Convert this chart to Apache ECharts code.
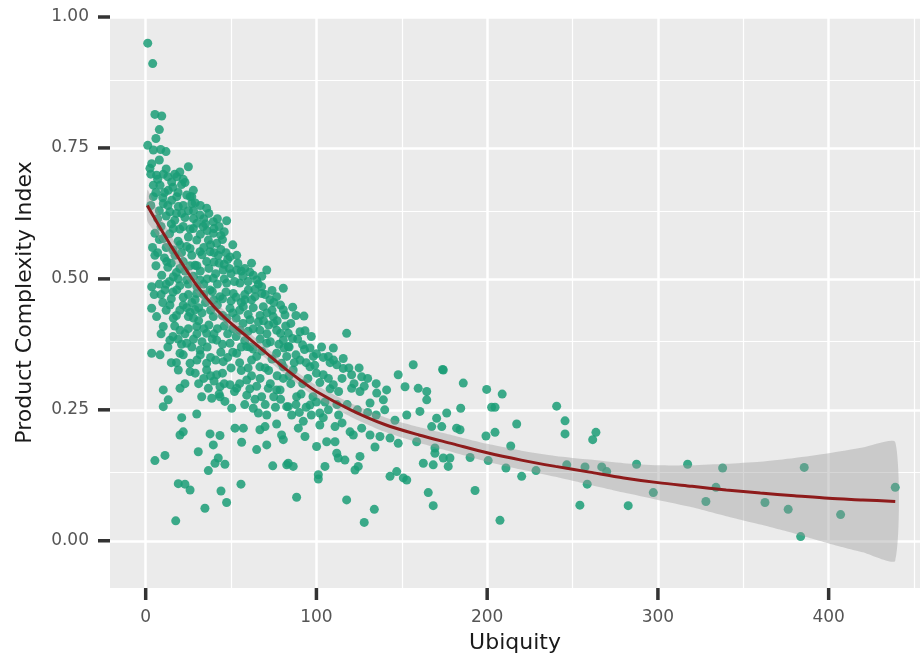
<!DOCTYPE html>
<html>
<head>
<meta charset="utf-8">
<style>html,body{margin:0;padding:0;background:#fff;}#chart{width:920px;height:663px;}</style>
<script src="https://cdn.jsdelivr.net/npm/echarts@6/dist/echarts.min.js"></script>
</head>
<body>
<div id="chart"></div>
<script>
// ---- data ----
const xTicks = [0, 100, 200, 300, 400];
const xMinor = [50, 150, 250, 350, 450];
const yTicks = [0, 0.25, 0.5, 0.75, 1.0];
const yMinor = [0.125, 0.375, 0.625, 0.875];

const points = [
[1.2,0.950],[4.1,0.911],[5.4,0.814],[9.4,0.811],[8,0.785],[6,0.768],[1.2,0.755],[4.5,0.746],[8.8,0.747],[11.9,0.743],
[8,0.727],[3.5,0.720],[2.5,0.711],[25,0.714],[20,0.704],[6.4,0.698],[10.3,0.700],[18.2,0.695],[15.2,0.685],[23,0.684],
[4.5,0.679],[8.4,0.679],[13.2,0.669],[27.9,0.669],[4.5,0.657],[18.2,0.657],[27,0.657],[47.4,0.611],[35.7,0.635],
[10.3,0.644],[15.2,0.650],[19.1,0.638],[27,0.644],[14.2,0.628],[21.1,0.625],[26,0.657],[31.8,0.622],[39.6,0.609],
[5.4,0.587],[10.3,0.577],[16.2,0.596],[22,0.600],[27.9,0.596],[33.7,0.600],[39.6,0.587],[25,0.580],[29.9,0.574],[36.7,0.574],
[41.6,0.568],[20.1,0.565],[26,0.558],[31.8,0.552],[37.7,0.552],[42.5,0.545],[5.4,0.545],[17.2,0.545],[49.4,0.542],[53.3,0.545],
[12.3,0.533],[22,0.533],[28.9,0.526],[35.7,0.533],[45.4,0.517],[53.3,0.517],[70.9,0.517],[63,0.507],[9.4,0.507],[16.2,0.504],
[24,0.498],[31.8,0.498],[39.6,0.501],[47.4,0.492],[55.2,0.492],[3.5,0.485],[80.6,0.482],[60.1,0.479],[67.9,0.485],[11.3,0.479],
[18.2,0.479],[29.9,0.472],[37.7,0.479],[43.5,0.466],[51.3,0.472],[64,0.466],[72.8,0.460],[76.7,0.466],[3.5,0.444],[14.2,0.450],
[22,0.450],[28.9,0.441],[49.4,0.444],[57.2,0.447],[68.9,0.447],[6.4,0.428],[16.2,0.425],[25,0.428],[39.6,0.428],[47.4,0.425],
[61.1,0.422],[74.7,0.428],[80.6,0.441],[10.3,0.409],[20.1,0.402],[29.9,0.409],[35.7,0.396],[55.2,0.402],[66.9,0.402],[76.7,0.402],
[14.2,0.383],[24,0.377],[41.6,0.383],[49.4,0.377],[59.2,0.371],[70.9,0.377],[80.6,0.383],[3.5,0.358],[8.4,0.355],[20.1,0.358],
[31.8,0.364],[53.3,0.358],[65,0.352],[76.7,0.358],[26,0.339],[35.7,0.339],[45.4,0.342],[66.9,0.332],[79.6,0.339],
[19.1,0.326],[26,0.323],[35.7,0.326],[41.6,0.317],[36.7,0.291],[43.5,0.294],[49.4,0.298],[53.3,0.291],[59.2,0.307],[59.2,0.278],
[67.9,0.275],[71.8,0.291],[76.7,0.288],[80.6,0.310],[10.3,0.288],[20.1,0.291],[32.8,0.275],[38.7,0.272],[43.5,0.275],[46.4,0.266],
[13.2,0.269],[10.3,0.256],[50.4,0.253],[63,0.253],[66,0.244],[70.9,0.240],[82.6,0.256],[21.1,0.235],[29.9,0.242],[76.7,0.223],
[52.3,0.215],[57.2,0.215],[66.9,0.212],[69.9,0.218],[20.1,0.202],[22,0.208],[37.7,0.204],[43.5,0.201],[79.6,0.202],[80.6,0.193],
[39.6,0.183],[56.2,0.188],[65,0.174],[70.9,0.183],[30.8,0.170],[5.4,0.153],[11.3,0.163],[42.5,0.158],[40.6,0.148],[46.4,0.146],
[36.7,0.134],[74.4,0.143],[82.6,0.145],[19.1,0.109],[23,0.108],[26,0.097],[44.1,0.095],[55.8,0.108],[34.7,0.062],[47.4,0.073],
[17.6,0.038],
[86.1,0.446],[81.6,0.431],[92.7,0.429],[117.7,0.396],[83.5,0.396],[90.4,0.399],[93.3,0.401],[83.5,0.371],[91.9,0.374],[96.2,0.368],
[109.9,0.368],[107,0.352],[115.7,0.348],[98.2,0.352],[90.4,0.345],[156.7,0.336],[82.6,0.352],
[80.6,0.332],[86.4,0.326],[96.2,0.332],[104,0.317],[111.9,0.336],[115.7,0.329],[120.6,0.317],[126.5,0.313],[109.9,0.298],[120.6,0.291],
[125.5,0.285],[135.3,0.282],[141.1,0.288],[147.9,0.317],[151.9,0.294],[159.6,0.291],[164.6,0.285],[164.6,0.269],[174.3,0.326],[139.2,0.269],
[131.4,0.263],[78.7,0.288],[83.5,0.256],[88.4,0.275],[96.2,0.259],[102,0.244],[85.5,0.240],[92.3,0.228],[89.4,0.215],[102,0.221],
[110.9,0.218],[119.7,0.208],[121.6,0.202],[126.5,0.215],[131.4,0.202],[137.2,0.199],[143.1,0.196],[147.9,0.186],[152.9,0.240],[160.6,0.247],
[167.5,0.218],[170.4,0.234],[176.3,0.244],[173.4,0.218],[158.7,0.189],[169.4,0.177],[169.4,0.167],[93.3,0.199],[100.1,0.180],[106,0.189],
[110.9,0.189],[111.9,0.167],[112.8,0.158],[116.7,0.154],[125.5,0.161],[134.3,0.179],[83.5,0.148],[86.4,0.142],[105,0.142],[122.6,0.135],
[124.5,0.142],[101.1,0.126],[101.1,0.118],[143.1,0.123],[147,0.132],[150.9,0.120],[152.9,0.116],[162.6,0.148],[168.4,0.145],[174.3,0.158],
[177.2,0.142],[165.5,0.092],[168.4,0.067],[88.4,0.083],[117.7,0.078],[133.9,0.060],[128,0.035],
[173.9,0.327],[186,0.301],[199.7,0.289],[208.8,0.280],[184.5,0.253],[202.6,0.255],[204.6,0.255],[240.7,0.257],[217.3,0.223],[245.6,0.229],
[245.6,0.204],[263.7,0.207],[261.8,0.193],[199.3,0.200],[204.6,0.207],[213.8,0.181],[184.1,0.212],[182.1,0.215],[190,0.159],[211,0.139],
[200.6,0.153],[220.2,0.123],[228.6,0.134],[246.6,0.145],[257.3,0.141],[267.1,0.141],[258.6,0.108],[192.9,0.096],[178.2,0.158],
[207.5,0.039],[254.3,0.068],
[270,0.132],[287.5,0.146],[282.6,0.067],[297.3,0.092],[317.4,0.146],[337.9,0.139],[334,0.102],[328.1,0.075],[362.7,0.073],[376.3,0.060],
[385.7,0.140],[383.6,0.008],[407,0.050],[439,0.102],
[12,0.62],[17,0.612],[23,0.617],[30,0.606],[36,0.592],[44,0.583],[9,0.60],[14,0.586],[19,0.572],[24,0.562],
[33,0.546],[40,0.532],[46,0.528],[50,0.51],[57,0.505],[60,0.495],[65,0.498],[68,0.472],[74,0.478],[7,0.55],
[13,0.522],[18,0.512],[23,0.515],[28,0.505],[34,0.49],[39,0.476],[45,0.462],[50,0.458],[55,0.44],[60,0.432],
[66,0.418],[72,0.412],[79,0.396],[86,0.386],[93,0.365],[100,0.357],[5,0.47],[10,0.455],[15,0.462],[20,0.44],
[26,0.436],[31,0.42],[37,0.412],[42,0.405],[48,0.395],[53,0.39],[58,0.382],[63,0.366],[68,0.362],[74,0.347],
[81,0.368],[88,0.355],[95,0.31],[102,0.302],[108,0.29],[16,0.39],[21,0.375],[27,0.37],[32,0.355],[38,0.35],
[44,0.36],[50,0.33],[56,0.325],[62,0.315],[67,0.31],[73,0.30],[79,0.27],[85,0.3],[91,0.28],[98,0.275],
[105,0.265],[112,0.26],[18,0.34],[23,0.3],[29,0.32],[34,0.31],[40,0.305],[46,0.3],[52,0.285],[58,0.26],
[64,0.27],[70,0.26],[76,0.255],[90,0.245],[97,0.24],[104,0.235],[115,0.225],[22,0.64],[28,0.63],[34,0.615],
[40,0.596],[46,0.59],[11,0.665],[16,0.675],[21,0.68],[13,0.695],[26,0.595],[32,0.585],[38,0.565],[44,0.556],
[54,0.53],[61,0.513],[66,0.49],[56,0.515],[48,0.537],[30,0.525],[42,0.49],[58,0.46],[63,0.445],[71,0.435],
[77,0.42],[85,0.415],[35,0.455],[25,0.47],[12,0.49],[20,0.487],[27,0.455],[33,0.435],[53,0.425],[45,0.43],
[60,0.4],[71,0.395],[88,0.43],[97,0.39],[103,0.37],[108,0.34],[119,0.33],[125,0.33],[130,0.31],[100,0.32],
[87,0.34],[92,0.3],[70,0.33],[62,0.345],[45,0.32],[30,0.395],[36,0.37],[25,0.405],
[3,0.70],[7,0.69],[12,0.71],[17,0.70],[22,0.69],[6,0.665],[10,0.655],[19,0.665],[24,0.66],[29,0.645],
[3,0.64],[8,0.63],[13,0.64],[18,0.625],[25,0.63],[32,0.64],[37,0.625],[42,0.615],[7,0.615],[15,0.605],
[20,0.595],[28,0.615],[35,0.605],[43,0.60],[45,0.575],[51,0.565],
[4,0.56],[8,0.575],[12,0.56],[16,0.555],[21,0.55],[27,0.545],[34,0.56],[40,0.55],[47,0.55],[6,0.525],
[11,0.54],[15,0.53],[20,0.52],[26,0.525],[32,0.515],[37,0.52],[43,0.53],[49,0.52],[8,0.49],[14,0.495],
[19,0.5],[25,0.49],[30,0.485],[36,0.5],[41,0.51],[46,0.50],[52,0.495],[58,0.52],[62,0.53],[68,0.505],
[9,0.47],[16,0.475],[22,0.465],[29,0.46],[34,0.47],[40,0.46],[47,0.475],[53,0.465],[58,0.47],[64,0.48],
[70,0.47],[75,0.455],
[12,0.44],[18,0.43],[24,0.445],[31,0.445],[38,0.44],[42,0.45],[51,0.435],[56,0.455],[62,0.46],[67,0.43],
[74,0.44],[79,0.45],[9,0.395],[17,0.41],[23,0.395],[28,0.425],[34,0.405],[40,0.395],[46,0.41],[51,0.405],
[57,0.415],[63,0.405],[69,0.42],[75,0.415],[82,0.41],[13,0.37],[19,0.385],[28,0.385],[33,0.38],[39,0.385],
[45,0.375],[51,0.36],[56,0.37],[61,0.37],[67,0.385],[73,0.38],[78,0.375],[84,0.37],[89,0.385],[15,0.34],
[22,0.355],[30,0.345],[41,0.345],[48,0.35],[55,0.34],[60,0.33],[72,0.325],[77,0.315],[84,0.315],[94,0.34],
[99,0.335],[104,0.35],[110,0.345],[115,0.31],[31,0.3],[38,0.315],[43,0.28],[55,0.3],[61,0.29],[65,0.295],
[75,0.275],[88,0.26],[94,0.255],[100,0.265],[107,0.25],[113,0.24],[118,0.26],[124,0.25],[130,0.245],[135,0.24],
[140,0.25],[146,0.23],[122,0.3],[128,0.295],[135,0.3],[107,0.31],[113,0.285]
];

const smoothX   = [1, 5, 10, 15, 20, 30, 40, 50, 60, 70, 80, 90, 100, 120, 140, 160, 180, 200, 220, 240, 260, 280, 300, 320, 340, 360, 380, 400, 420, 439];
const smoothFit = [0.640, 0.617, 0.589, 0.562, 0.536, 0.487, 0.447, 0.415, 0.388, 0.360, 0.333, 0.308, 0.285, 0.250, 0.222, 0.202, 0.185, 0.168, 0.154, 0.142, 0.131, 0.120, 0.111, 0.104, 0.097, 0.091, 0.086, 0.081, 0.078, 0.075];
const smoothSE  = [0.030, 0.026, 0.022, 0.020, 0.018, 0.015, 0.013, 0.012, 0.011, 0.011, 0.011, 0.011, 0.012, 0.013, 0.014, 0.015, 0.016, 0.017, 0.018, 0.020, 0.024, 0.028, 0.033, 0.040, 0.050, 0.060, 0.072, 0.086, 0.100, 0.113];

// ---- chart ----
const chart = echarts.init(document.getElementById('chart'), null, {renderer: 'canvas'});
const FONT = 'DejaVu Sans';
const X_MIN = -20.9, X_MAX = 453.5, Y_MIN = -0.0902, Y_MAX = 1.0;

const gridLines = [];
xTicks.forEach(v => gridLines.push({xAxis: v, lineStyle: {color: '#ffffff', width: 2.5, type: 'solid'}}));
xMinor.forEach(v => gridLines.push({xAxis: v, lineStyle: {color: '#ffffff', width: 1.2, type: 'solid'}}));
yTicks.forEach(v => gridLines.push({yAxis: v, lineStyle: {color: '#ffffff', width: 2.5, type: 'solid'}}));
yMinor.forEach(v => gridLines.push({yAxis: v, lineStyle: {color: '#ffffff', width: 1.2, type: 'solid'}}));

const option = {
  animation: false,
  backgroundColor: '#ffffff',
  grid: {left: 110, right: 0, top: 17, bottom: 75, show: true, backgroundColor: '#ebebeb', borderWidth: 0, z: 0},
  xAxis: {
    type: 'value', min: X_MIN, max: X_MAX,
    name: 'Ubiquity', nameLocation: 'middle', nameGap: 44,
    nameTextStyle: {fontFamily: FONT, fontSize: 22, color: '#1a1a1a'},
    axisLine: {show: false},
    axisTick: {show: false},
    axisLabel: {fontFamily: FONT, fontSize: 17, color: '#555555', margin: 21, customValues: xTicks,
                formatter: v => String(v)},
    splitLine: {show: false}
  },
  yAxis: {
    type: 'value', min: Y_MIN, max: Y_MAX,
    name: 'Product Complexity Index', nameLocation: 'middle', nameGap: 74,
    nameTextStyle: {fontFamily: FONT, fontSize: 22, color: '#1a1a1a'},
    axisLine: {show: false},
    axisTick: {show: false},
    axisLabel: {fontFamily: FONT, fontSize: 17, color: '#555555', margin: 21, customValues: yTicks,
                formatter: v => v.toFixed(2)},
    splitLine: {show: false}
  },
  series: [
    {
      type: 'scatter', data: [], z: 1, silent: true,
      markLine: {silent: true, z: 1, zlevel: 0, symbol: ['none', 'none'], label: {show: false}, animation: false, data: gridLines}
    },
    {
      type: 'scatter', data: points, z: 5, symbolSize: 9,
      itemStyle: {color: '#1b9e77', opacity: 0.85}
    },
    {
      type: 'custom', z: 6, data: [[0, 0]], clip: true, silent: true,
      renderItem: function (params, api) {
        const pts = [];
        for (let i = 0; i < smoothX.length; i++) pts.push(api.coord([smoothX[i], smoothFit[i] + smoothSE[i]]));
        for (let i = smoothX.length - 1; i >= 0; i--) pts.push(api.coord([smoothX[i], smoothFit[i] - smoothSE[i]]));
        return {type: 'polygon', shape: {points: pts, smooth: 0.2}, style: {fill: 'rgba(153,153,153,0.4)'}};
      }
    },
    {
      type: 'line', z: 7, showSymbol: false, smooth: 0.3, silent: true,
      data: smoothX.map((x, i) => [x, smoothFit[i]]),
      lineStyle: {color: '#8e1b1b', width: 3}
    }
  ]
};
chart.setOption(option);

// axis tick marks (ggplot style), positioned through the axes' own scales
const TICK_LEN = 12, TICK_W = 3.5;
const yBottom = chart.convertToPixel({yAxisIndex: 0}, Y_MIN);
const xLeft = chart.convertToPixel({xAxisIndex: 0}, X_MIN);
const tickEls = [];
xTicks.forEach(v => {
  const px = chart.convertToPixel({xAxisIndex: 0}, v);
  tickEls.push({type: 'rect', silent: true, shape: {x: px - TICK_W / 2, y: yBottom, width: TICK_W, height: TICK_LEN}, style: {fill: '#333333'}});
});
yTicks.forEach(v => {
  const py = chart.convertToPixel({yAxisIndex: 0}, v);
  tickEls.push({type: 'rect', silent: true, shape: {x: xLeft - TICK_LEN, y: py - TICK_W / 2, width: TICK_LEN, height: TICK_W}, style: {fill: '#333333'}});
});
chart.setOption({graphic: {elements: tickEls}});
</script>
</body>
</html>
